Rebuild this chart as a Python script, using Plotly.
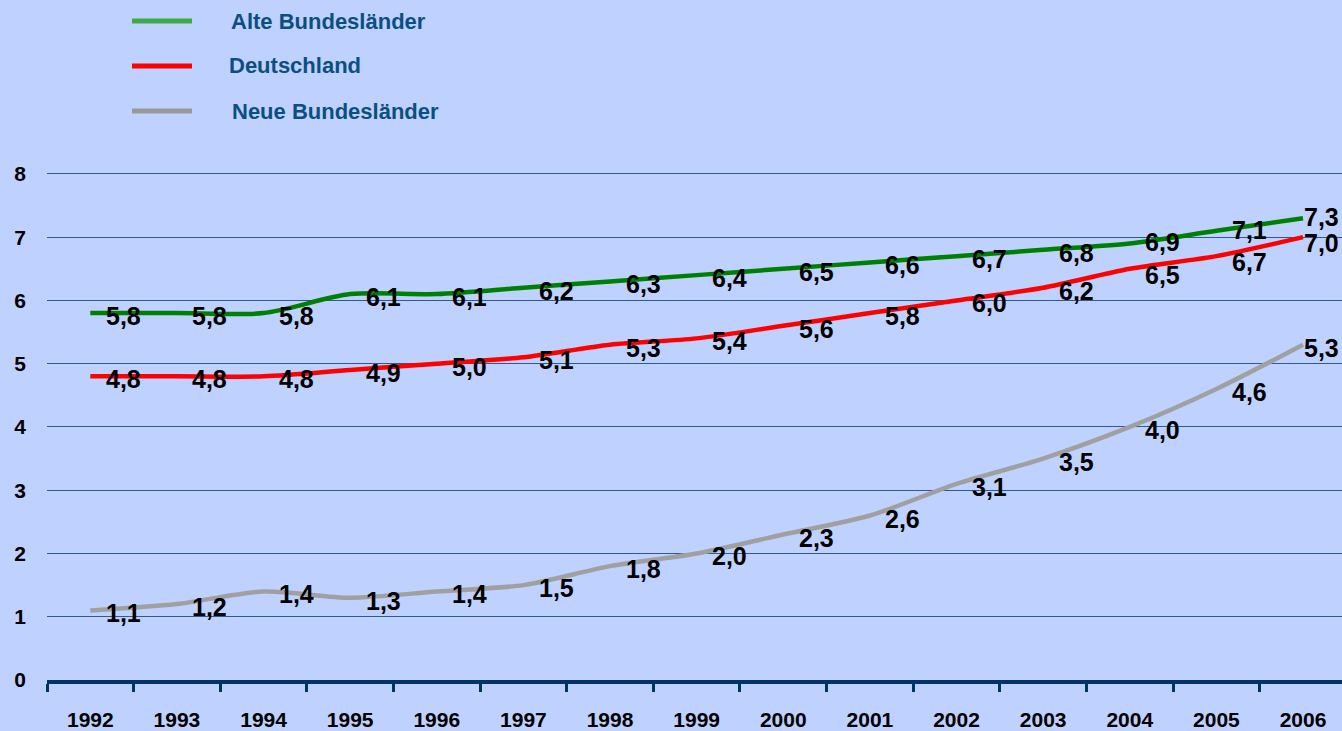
import plotly.graph_objects as go

years = ["1992", "1993", "1994", "1995", "1996", "1997", "1998", "1999",
         "2000", "2001", "2002", "2003", "2004", "2005", "2006"]
alte = [5.8, 5.8, 5.8, 6.1, 6.1, 6.2, 6.3, 6.4, 6.5, 6.6, 6.7, 6.8, 6.9, 7.1, 7.3]
deutschland = [4.8, 4.8, 4.8, 4.9, 5.0, 5.1, 5.3, 5.4, 5.6, 5.8, 6.0, 6.2, 6.5, 6.7, 7.0]
neue = [1.1, 1.2, 1.4, 1.3, 1.4, 1.5, 1.8, 2.0, 2.3, 2.6, 3.1, 3.5, 4.0, 4.6, 5.3]

series_names = ["Alte Bundesländer", "Deutschland", "Neue Bundesländer"]
series_values = [alte, deutschland, neue]
line_colors = ["#008000", "#FF0000", "#A0A0A0"]
legend_colors = ["#3DAA47", "#FF0000", "#999999"]
y_ticks = [0, 1, 2, 3, 4, 5, 6, 7, 8]

FONT = "Liberation Sans, Arial, sans-serif"
BG = "#BFD1FF"
TXT_BLUE = "#0B4F80"

W, H = 1342, 731
ML, MR, MT, MB = 47, 0, 172, 51

fig = go.Figure()
for name, vals, col in zip(series_names, series_values, line_colors):
    fig.add_trace(go.Scatter(
        x=years, y=vals, name=name, mode="lines",
        line=dict(color=col, width=4.5, shape="spline", smoothing=0.8),
        showlegend=False, cliponaxis=False,
    ))

annotations = []
for si, vals in enumerate(series_values):
    for i, v in enumerate(vals):
        ys = -3
        if i >= 12 and si == 0:
            ys = 1
        elif i >= 12 and si == 1:
            ys = -6
        annotations.append(dict(
            x=i, y=v, xref="x", yref="y",
            text=f"{v:.1f}".replace(".", ","),
            showarrow=False, xanchor="center", yanchor="middle",
            xshift=18 if i == len(vals) - 1 else 33, yshift=ys,
            font=dict(family=FONT, size=25, color="black", weight="bold"),
        ))

# custom legend (pixel layout converted to paper coords)
pw = W - ML - MR
ph = H - MT - MB
def px2paper(px, py):
    return (px - ML) / pw, (H - MB - py) / ph

shapes = []
legend_y = [21, 66, 111]
legend_tx = [229, 227, 230]
for name, col, ly, lx in zip(series_names, legend_colors, legend_y, legend_tx):
    x0, y0 = px2paper(132, ly)
    x1, _ = px2paper(192, ly)
    shapes.append(dict(type="line", xref="paper", yref="paper",
                       x0=x0, x1=x1, y0=y0, y1=y0,
                       line=dict(color=col, width=5)))
    tx, ty = px2paper(lx, ly)
    annotations.append(dict(
        x=tx, y=ty, xref="paper", yref="paper", text=name,
        showarrow=False, xanchor="left", yanchor="middle",
        font=dict(family=FONT, size=22, color=TXT_BLUE, weight="bold"),
    ))

fig.update_layout(
    width=W, height=H,
    margin=dict(l=ML, r=MR, t=MT, b=MB),
    paper_bgcolor=BG, plot_bgcolor=BG,
    annotations=annotations, shapes=shapes,
    font=dict(family=FONT, size=21, color="black", weight="bold"),
    xaxis=dict(
        type="category", range=[-0.5, 14.45],
        tickson="boundaries", ticks="outside", ticklen=8, tickwidth=3,
        tickcolor="#003366", showline=True, linecolor="#003366", linewidth=4,
        showgrid=False, zeroline=False, ticklabelstandoff=18,
        tickfont=dict(family=FONT, size=21, color="black", weight="bold"),
    ),
    yaxis=dict(
        range=[0, 8.03], tickvals=y_ticks, showgrid=True, gridcolor="#2F5A8C",
        gridwidth=1, zeroline=False, showline=False, ticks="",
        ticklabelstandoff=20,
        tickfont=dict(family=FONT, size=21, color="black", weight="bold"),
    ),
)

fig.write_html("out.html", config={"displayModeBar": False},
               post_script="document.body.style.margin='0px';")
